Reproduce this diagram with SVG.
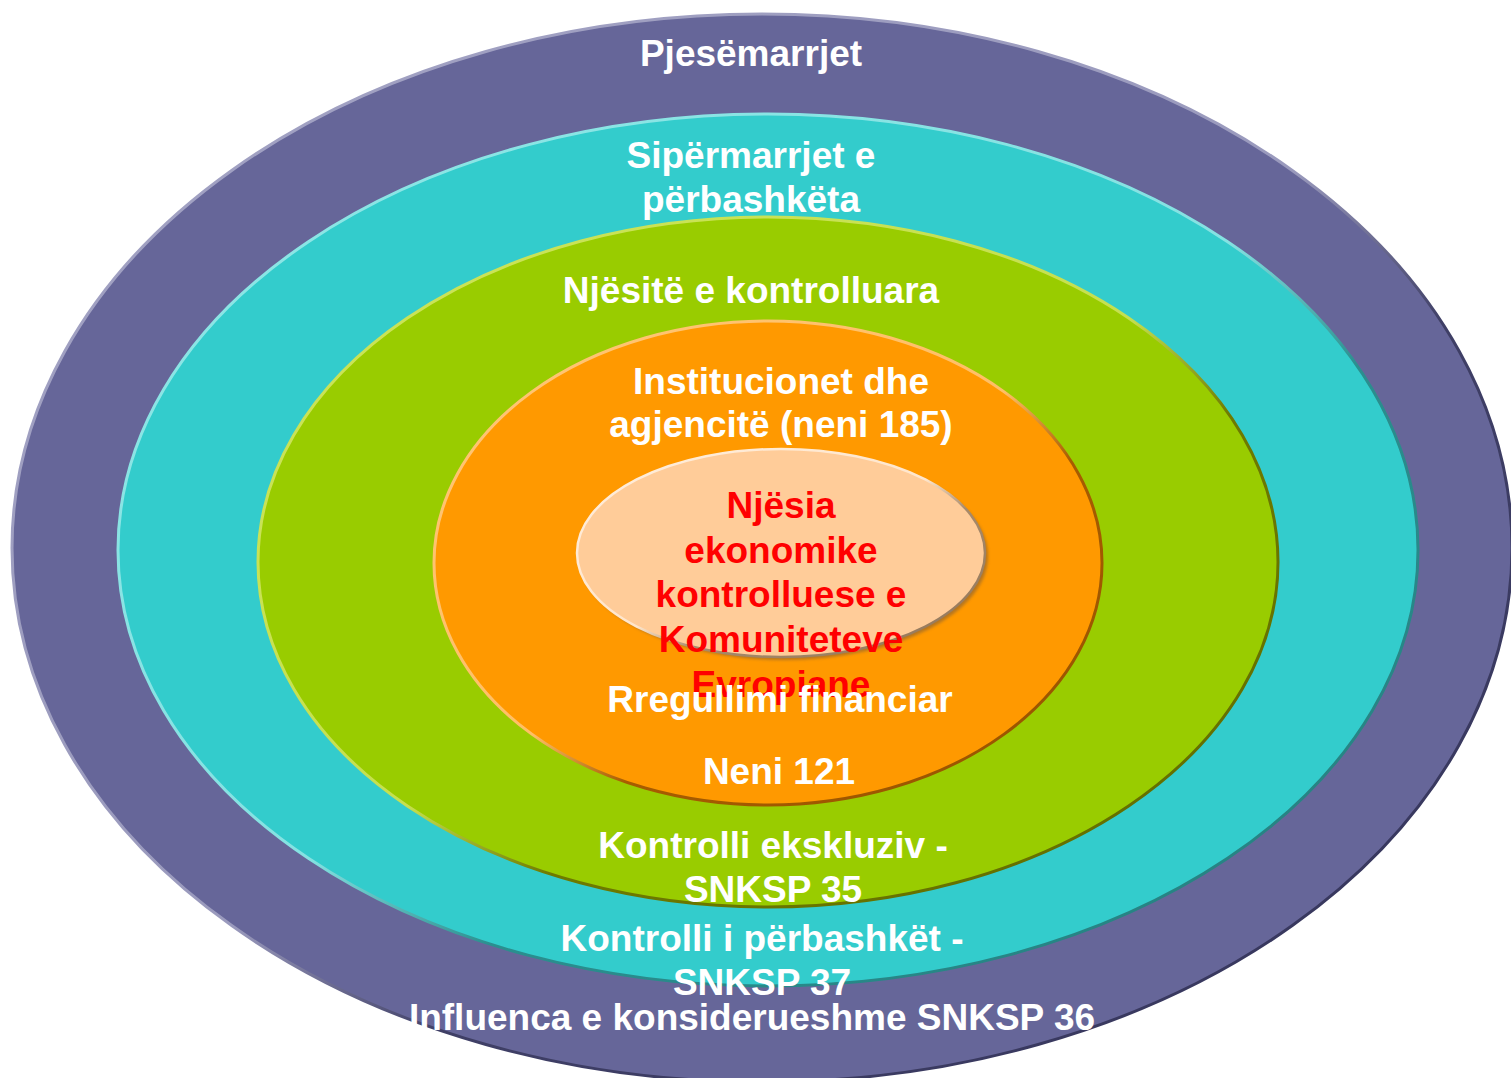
<svg xmlns="http://www.w3.org/2000/svg" width="1511" height="1078" viewBox="0 0 1511 1078">
  <style>
    .lbl { font-family: "Liberation Sans", Arial, sans-serif; font-weight: bold; font-size: 37px; text-anchor: middle; }
    .w { fill: #ffffff; }
    .r { fill: #ff0000; }
  </style>
  <defs>
    <!-- rim gradients: light edge upper-left, shaded edge lower-right -->
    <linearGradient id="rimPurple" x1="0" y1="0" x2="1" y2="1">
      <stop offset="0" stop-color="#a3a3c4"/>
      <stop offset="0.5" stop-color="#9a9abd"/>
      <stop offset="0.62" stop-color="#3f3f66"/>
      <stop offset="1" stop-color="#34345a"/>
    </linearGradient>
    <linearGradient id="rimCyan" x1="0" y1="0" x2="1" y2="1">
      <stop offset="0" stop-color="#8ee6e6"/>
      <stop offset="0.5" stop-color="#85e2e2"/>
      <stop offset="0.62" stop-color="#2a8f8f"/>
      <stop offset="1" stop-color="#247d7d"/>
    </linearGradient>
    <linearGradient id="rimGreen" x1="0" y1="0" x2="1" y2="1">
      <stop offset="0" stop-color="#cce45a"/>
      <stop offset="0.5" stop-color="#c5e050"/>
      <stop offset="0.62" stop-color="#6e7a00"/>
      <stop offset="1" stop-color="#5f6a00"/>
    </linearGradient>
    <linearGradient id="rimOrange" x1="0" y1="0" x2="1" y2="1">
      <stop offset="0" stop-color="#ffc677"/>
      <stop offset="0.5" stop-color="#ffbf66"/>
      <stop offset="0.62" stop-color="#a85c00"/>
      <stop offset="1" stop-color="#955200"/>
    </linearGradient>
    <linearGradient id="rimPeach" x1="0" y1="0" x2="1" y2="1">
      <stop offset="0" stop-color="#ffeedd"/>
      <stop offset="0.5" stop-color="#ffe6cc"/>
      <stop offset="0.62" stop-color="#a88a6a"/>
      <stop offset="1" stop-color="#8f7458"/>
    </linearGradient>
    <filter id="soft" x="-5%" y="-5%" width="110%" height="110%">
      <feGaussianBlur stdDeviation="1.5"/>
    </filter>
  </defs>

  <rect width="1511" height="1078" fill="#ffffff"/>

  <!-- nested rings, outermost first -->
  <g id="ring-pjesemarrjet">
    <ellipse cx="762" cy="548" rx="750" ry="534" fill="#666699" stroke="url(#rimPurple)" stroke-width="3"/>
  </g>
  <g id="ring-sipermarrjet">
    <ellipse cx="768" cy="550" rx="650" ry="436" fill="#33cccc" stroke="url(#rimCyan)" stroke-width="3"/>
  </g>
  <g id="ring-njesite">
    <ellipse cx="768" cy="562" rx="510" ry="345" fill="#99cc00" stroke="url(#rimGreen)" stroke-width="3"/>
  </g>
  <g id="ring-institucionet">
    <ellipse cx="768" cy="563" rx="334" ry="242" fill="#ff9900" stroke="url(#rimOrange)" stroke-width="3"/>
  </g>
  <g id="core-njesia">
    <ellipse cx="784" cy="556" rx="204" ry="104" fill="#7a5a3a" opacity="0.55" filter="url(#soft)"/>
    <ellipse cx="781" cy="553" rx="204" ry="104" fill="#ffcc99" stroke="url(#rimPeach)" stroke-width="2.5"/>
  </g>

  <!-- labels -->
  <g id="labels">
    <text class="lbl w" x="751" y="66">Pjesëmarrjet</text>
    <text class="lbl w" x="751" y="168">Sipërmarrjet e</text>
    <text class="lbl w" x="751" y="212">përbashkëta</text>
    <text class="lbl w" x="751" y="303">Njësitë e kontrolluara</text>
    <text class="lbl w" x="781" y="394">Institucionet dhe</text>
    <text class="lbl w" x="781" y="437">agjencitë (neni 185)</text>

    <text class="lbl r" x="781" y="518">Njësia</text>
    <text class="lbl r" x="781" y="563">ekonomike</text>
    <text class="lbl r" x="781" y="607">kontrolluese e</text>
    <text class="lbl r" x="781" y="652">Komuniteteve</text>
    <text class="lbl r" x="781" y="697">Evropiane</text>

    <text class="lbl w" x="780" y="712">Rregullimi financiar</text>
    <text class="lbl w" x="779" y="784">Neni 121</text>
    <text class="lbl w" x="773" y="858">Kontrolli ekskluziv -</text>
    <text class="lbl w" x="773" y="902">SNKSP 35</text>
    <text class="lbl w" x="762" y="951">Kontrolli i përbashkët -</text>
    <text class="lbl w" x="762" y="995">SNKSP 37</text>
    <text class="lbl w" x="752" y="1030">Influenca e konsiderueshme SNKSP 36</text>
  </g>
</svg>
